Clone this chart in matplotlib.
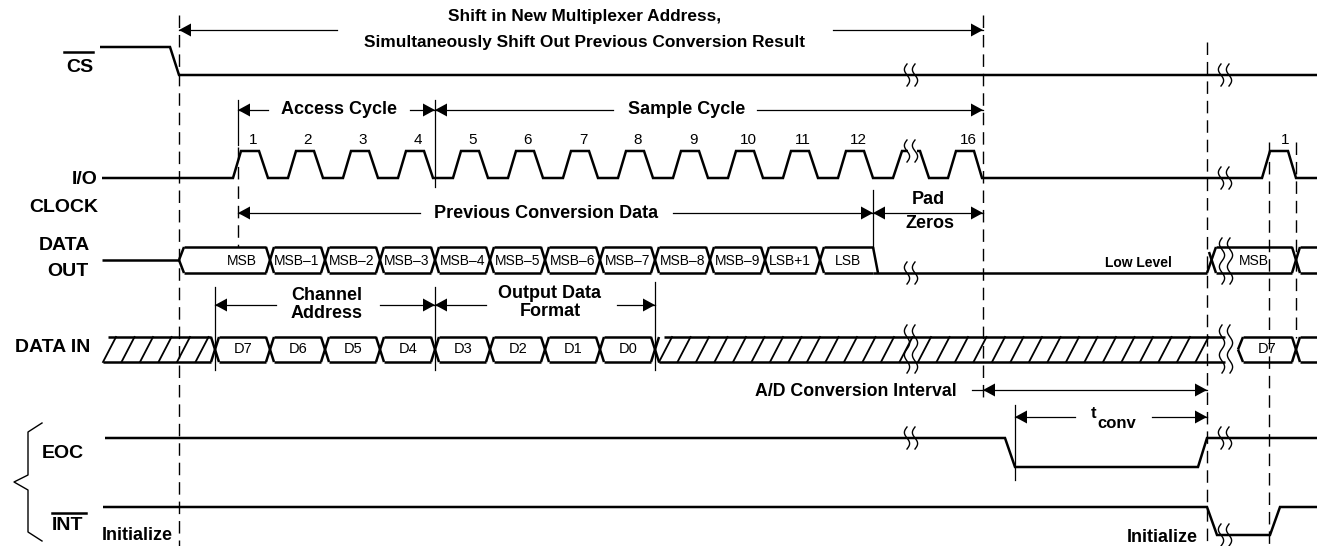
import numpy as np
import matplotlib.pyplot as plt

plt.rcParams['font.family'] = ['Liberation Sans', 'DejaVu Sans']

# ---- timing data (x positions in diagram units, left to right) ----
# start of the rising edge of each numbered I/O CLOCK pulse
clk_rise = [233, 288, 343, 398, 453, 508, 563, 618, 673, 728, 783, 838]
clk_num = ['1', '2', '3', '4', '5', '6', '7', '8', '9', '10', '11', '12']
clk_rise_16 = 948       # pulse 16 (after the break)
clk_rise_next = 1262    # first pulse of the next cycle

# DATA OUT bit cells (boundaries) and labels
dout_edges = [179, 270, 325, 380, 435, 490, 545, 600, 655, 710, 765, 820, 873]
dout_labels = ['MSB', 'MSB\u20131', 'MSB\u20132', 'MSB\u20133', 'MSB\u20134', 'MSB\u20135',
               'MSB\u20136', 'MSB\u20137', 'MSB\u20138', 'MSB\u20139', 'LSB+1', 'LSB']
dout_label_x = [242, 297, 352, 407, 463, 518, 573, 628, 683, 738, 790, 848]

# DATA IN bit cells (boundaries) and labels
din_edges = [215, 270, 325, 380, 435, 490, 545, 600, 655]
din_labels = ['D7', 'D6', 'D5', 'D4', 'D3', 'D2', 'D1', 'D0']

# event times
cs_fall = 170
t_cycle_end = 983       # end of 16th clock / start of conversion
t_conv_start = 1005     # EOC falls
t_conv_end = 1207       # EOC rises / INT falls
t_next_clk = 1296
t_breaks = [911, 1225]

# signal levels (y, downward)
CS_HI, CS_LO = 47, 75
CLK_HI, CLK_LO = 151, 178
DO_TOP, DO_BOT = 247, 273
DI_TOP, DI_BOT = 337, 362
EOC_HI, EOC_LO = 438, 467
INT_HI, INT_LO = 507, 535

fig = plt.figure(figsize=(13.17, 5.46), dpi=100)
ax = fig.add_axes([0, 0, 1, 1])
ax.set_xlim(0, 1317)
ax.set_ylim(546, 0)
ax.axis('off')

SIG = dict(color='black', lw=1.8, solid_joinstyle='miter', solid_capstyle='butt')
THIN = dict(color='black', lw=0.9)


def sig(xs, ys, **kw):
    ax.plot(xs, ys, **{**SIG, **kw})


def vdash(x, y0, y1):
    ax.plot([x, x], [y0, y1], color='black', lw=1.0, dashes=(9, 5))


def vtick(x, y0, y1):
    ax.plot([x, x], [y0, y1], **THIN)


def head(x, y, d):
    # filled arrowhead with its tip at (x, y), pointing d = +1 right / -1 left
    L, H = 12, 6.5
    ax.fill([x, x - d * L, x - d * L], [y, y - H, y + H], color='black', lw=0)


def hline(x0, x1, y):
    ax.plot([x0, x1], [y, y], **THIN)


def brk(x, y, h=22, waves=1):
    t = np.linspace(0, 1, 60)
    for xc in (x - 4, x + 4):
        ax.plot(xc - 2.6 * np.sin(2 * np.pi * waves * t), y - h / 2 + h * t,
                color='black', lw=1.0)


def label(x, y, s, size=14, ha='right', weight='bold'):
    ax.text(x, y, s, fontsize=size, ha=ha, va='center', fontweight=weight)


# ---- dashed reference lines ----
vdash(179, 15, 546)
vdash(t_cycle_end, 15, 403)
vdash(t_conv_end, 42, 546)
vdash(1269, 142, 546)
vdash(t_next_clk, 142, 338)
vtick(238, 100, 145)
vdash(238, 147, 247)
vtick(435, 100, 187)
vtick(435, 287, 370)
vtick(215, 287, 370)
vtick(655, 282, 370)
vtick(873, 190, 248)
vtick(1015, 405, 480)

# ---- CS ----
sig([100, cs_fall, 179, 1317], [CS_HI, CS_HI, CS_LO, CS_LO])
label(93, 67, 'CS')
ax.plot([64, 93], [52, 52], color='black', lw=1.8)

# ---- I/O CLOCK ----
xs, ys = [102], [CLK_LO]
for r in clk_rise:
    xs += [r, r + 8, r + 26, r + 35]
    ys += [CLK_LO, CLK_HI, CLK_HI, CLK_LO]
xs += [893, 902, 908]
ys += [CLK_LO, CLK_HI, CLK_HI]
sig(xs, ys)
xs, ys = [917, 920, 929], [CLK_HI, CLK_HI, CLK_LO]
for r in (clk_rise_16, clk_rise_next):
    xs += [r, r + 8, r + 26, r + 34]
    ys += [CLK_LO, CLK_HI, CLK_HI, CLK_LO]
xs += [1317]
ys += [CLK_LO]
sig(xs, ys)
for r, n in zip(clk_rise, clk_num):
    ax.text(r + 20, 140, n, fontsize=11, ha='center', va='center')
ax.text(clk_rise_16 + 20, 140, '16', fontsize=11, ha='center', va='center')
ax.text(clk_rise_next + 23, 140, '1', fontsize=11, ha='center', va='center')
label(98, 180, 'I/O')
label(98, 208, 'CLOCK')

# ---- DATA OUT ----
hw = 4
sig([102, dout_edges[0]], [260, 260])
sig([179, 184], [260, DO_TOP])
sig([179, 184], [260, DO_BOT])
for e in dout_edges[1:-1]:
    sig([e - hw, e + hw], [DO_TOP, DO_BOT])
    sig([e - hw, e + hw], [DO_BOT, DO_TOP])
starts = [184] + [e + hw for e in dout_edges[1:-1]]
ends = [e - hw for e in dout_edges[1:-1]] + [dout_edges[-1]]
for a, b in zip(starts, ends):
    sig([a, b], [DO_TOP, DO_TOP])
    sig([a, b], [DO_BOT, DO_BOT])
sig([dout_edges[-1], dout_edges[-1] + 5], [DO_TOP, DO_BOT])
sig([dout_edges[-1], t_conv_end], [DO_BOT, DO_BOT])
for x, s in zip(dout_label_x, dout_labels):
    ax.text(x, 261, s, fontsize=10, ha='center', va='center')
ax.text(1138, 263, 'Low Level', fontsize=10, ha='center', va='center', fontweight='bold')
# next cycle MSB
sig([t_conv_end, 1216], [DO_BOT, DO_TOP])
sig([1209, 1216], [252, DO_BOT])
sig([1216, t_next_clk - hw], [DO_TOP, DO_TOP])
sig([1216, t_next_clk - hw], [DO_BOT, DO_BOT])
sig([t_next_clk - hw, t_next_clk + hw], [DO_TOP, DO_BOT])
sig([t_next_clk - hw, t_next_clk + hw], [DO_BOT, DO_TOP])
sig([t_next_clk + hw, 1317], [DO_TOP, DO_TOP])
sig([t_next_clk + hw, 1317], [DO_BOT, DO_BOT])
ax.text(1254, 261, 'MSB', fontsize=10, ha='center', va='center')
label(90, 245, 'DATA')
label(89, 272, 'OUT')


# ---- DATA IN ----
def hatch(x0, x1):
    sig([x0 + 5, x1], [DI_TOP, DI_TOP])
    sig([x0, x1], [DI_BOT, DI_BOT])
    for xb in np.arange(x0, x1 - 12, 18.5):
        ax.plot([xb, xb + 13], [DI_BOT, DI_TOP], color='black', lw=1.3)


hatch(103, din_edges[0] - hw)
hatch(din_edges[-1] + hw, 1225)
for e in din_edges:
    sig([e - hw, e + hw], [DI_TOP, DI_BOT])
    sig([e - hw, e + hw], [DI_BOT, DI_TOP])
for a, b, s in zip(din_edges[:-1], din_edges[1:], din_labels):
    sig([a + hw, b - hw], [DI_TOP, DI_TOP])
    sig([a + hw, b - hw], [DI_BOT, DI_BOT])
    ax.text((a + b) / 2 + 1, 349, s, fontsize=10.5, ha='center', va='center')
sig([1238, 1243], [349.5, DI_TOP])
sig([1238, 1243], [349.5, DI_BOT])
sig([1243, t_next_clk - hw], [DI_TOP, DI_TOP])
sig([1243, t_next_clk - hw], [DI_BOT, DI_BOT])
sig([t_next_clk - hw, t_next_clk + hw], [DI_TOP, DI_BOT])
sig([t_next_clk - hw, t_next_clk + hw], [DI_BOT, DI_TOP])
sig([t_next_clk + hw, 1317], [DI_TOP, DI_TOP])
sig([t_next_clk + hw, 1317], [DI_BOT, DI_BOT])
ax.text(1267, 349, 'D7', fontsize=10.5, ha='center', va='center')
label(90, 348, 'DATA IN')

# ---- EOC / INT ----
sig([105, t_conv_start, 1015, 1198, t_conv_end, 1317],
    [EOC_HI, EOC_HI, EOC_LO, EOC_LO, EOC_HI, EOC_HI])
sig([103, t_conv_end, 1217, 1270, 1280, 1317],
    [INT_HI, INT_HI, INT_LO, INT_LO, INT_HI, INT_HI])
label(42, 454, 'EOC', ha='left')
label(52, 525, 'INT', ha='left')
ax.plot([52, 86], [513, 513], color='black', lw=1.8)
label(102, 536, 'Initialize', size=13, ha='left')
label(1198, 537, 'Initialize', size=13)
ax.plot([42, 28, 28, 14, 28, 28, 42], [423, 432, 475, 482, 490, 532, 541],
        color='black', lw=1.0)

# ---- break marks ----
for x in t_breaks:
    brk(x, CS_LO)
    brk(x, EOC_HI)
brk(t_breaks[0], CLK_HI)
brk(t_breaks[1], CLK_LO)
brk(t_breaks[0], DO_BOT)
brk(t_breaks[1] + 1, 261, h=46, waves=2)
brk(t_breaks[0], 349, h=48, waves=2)
brk(t_breaks[1] + 1, 349, h=48, waves=2)
brk(t_breaks[1], INT_LO)

# ---- dimension arrows ----
head(179, 30, -1); hline(179, 337, 30)
hline(833, t_cycle_end, 30); head(t_cycle_end, 30, 1)
ax.text(585, 17, 'Shift in New Multiplexer Address,', fontsize=12.4,
        ha='center', va='center', fontweight='bold')
ax.text(585, 42, 'Simultaneously Shift Out Previous Conversion Result', fontsize=12.4,
        ha='center', va='center', fontweight='bold')

head(238, 110, -1); hline(238, 268, 110)
hline(410, 435, 110); head(435, 110, 1)
ax.text(339, 110, 'Access Cycle', fontsize=13, ha='center', va='center', fontweight='bold')
head(435, 110, -1); hline(435, 613, 110)
hline(757, t_cycle_end, 110); head(t_cycle_end, 110, 1)
ax.text(687, 110, 'Sample Cycle', fontsize=13, ha='center', va='center', fontweight='bold')

head(238, 213, -1); hline(238, 420, 213)
hline(673, 873, 213); head(873, 213, 1)
ax.text(546, 213, 'Previous Conversion Data', fontsize=13, ha='center', va='center',
        fontweight='bold')
head(873, 213, -1); hline(873, t_cycle_end, 213); head(t_cycle_end, 213, 1)
ax.text(928, 200, 'Pad', fontsize=13, ha='center', va='center', fontweight='bold')
ax.text(930, 224, 'Zeros', fontsize=13, ha='center', va='center', fontweight='bold')

head(215, 305, -1); hline(215, 276, 305)
hline(380, 435, 305); head(435, 305, 1)
ax.text(327, 295, 'Channel', fontsize=13, ha='center', va='center', fontweight='bold')
ax.text(327, 313, 'Address', fontsize=13, ha='center', va='center', fontweight='bold')
head(435, 305, -1); hline(435, 486, 305)
hline(617, 655, 305); head(655, 305, 1)
ax.text(550, 294, 'Output Data', fontsize=13, ha='center', va='center', fontweight='bold')
ax.text(550, 312, 'Format', fontsize=13, ha='center', va='center', fontweight='bold')

hline(972, t_conv_end, 390)
head(t_cycle_end, 390, -1); head(t_conv_end, 390, 1)
ax.text(957, 391, 'A/D Conversion Interval', fontsize=12.8, ha='right', va='center',
        fontweight='bold')

head(1015, 417, -1); hline(1015, 1075, 417)
hline(1152, t_conv_end, 417); head(t_conv_end, 417, 1)
ax.text(1096, 414, 't', fontsize=12, ha='right', va='center', fontweight='bold')
ax.text(1097, 424, 'conv', fontsize=12, ha='left', va='center', fontweight='bold')

fig.savefig('out.png', dpi=100)
